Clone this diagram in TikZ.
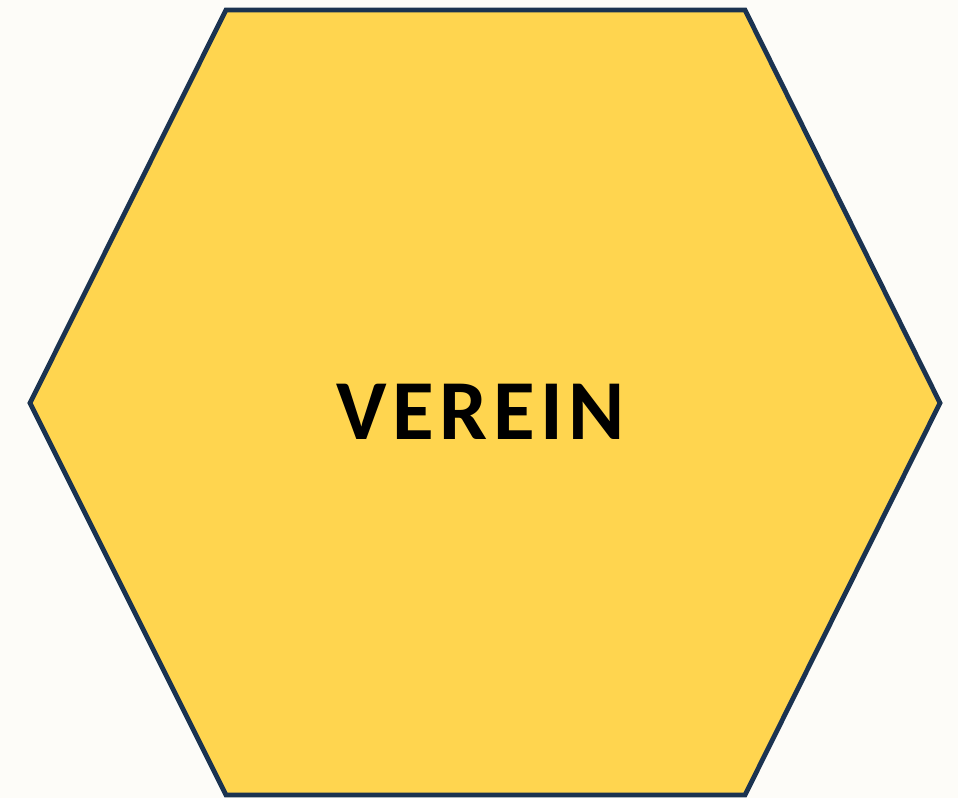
\documentclass[tikz,border=0pt]{standalone}
\usepackage{fontspec}
\setmainfont{Carlito}
\newfontfamily\hexfont[LetterSpace=6.5]{Carlito}
\usepackage{tikz}
\usetikzlibrary{positioning}

\definecolor{bgcream}{HTML}{FDFCF8}
\definecolor{hexyellow}{HTML}{FFD54F}
\definecolor{hexnavy}{HTML}{1B3350}

\begin{document}
\begin{tikzpicture}[
    x=0.75pt, y=-0.75pt,
    hexa/.style={draw=hexnavy, fill=hexyellow, line width=3.6pt, line join=miter},
    label/.style={font=\hexfont\fontsize{64}{70}\selectfont\bfseries, text=black, inner sep=0pt, anchor=base}
]
    % Background
    \fill[bgcream] (0,0) rectangle (958,798);
    \useasboundingbox (0,0) rectangle (958,798);

    % Hexagon corners
    \coordinate (tl) at (226,10);
    \coordinate (tr) at (745,10);
    \coordinate (rr) at (940,403);
    \coordinate (br) at (745,795);
    \coordinate (bl) at (226,795);
    \coordinate (ll) at (30,403);
    \draw[hexa] (tl) -- (tr) -- (rr) -- (br) -- (bl) -- (ll) -- cycle;

    % Title
    \node[label] (verein) at (481,440) {VEREIN};
\end{tikzpicture}
\end{document}
